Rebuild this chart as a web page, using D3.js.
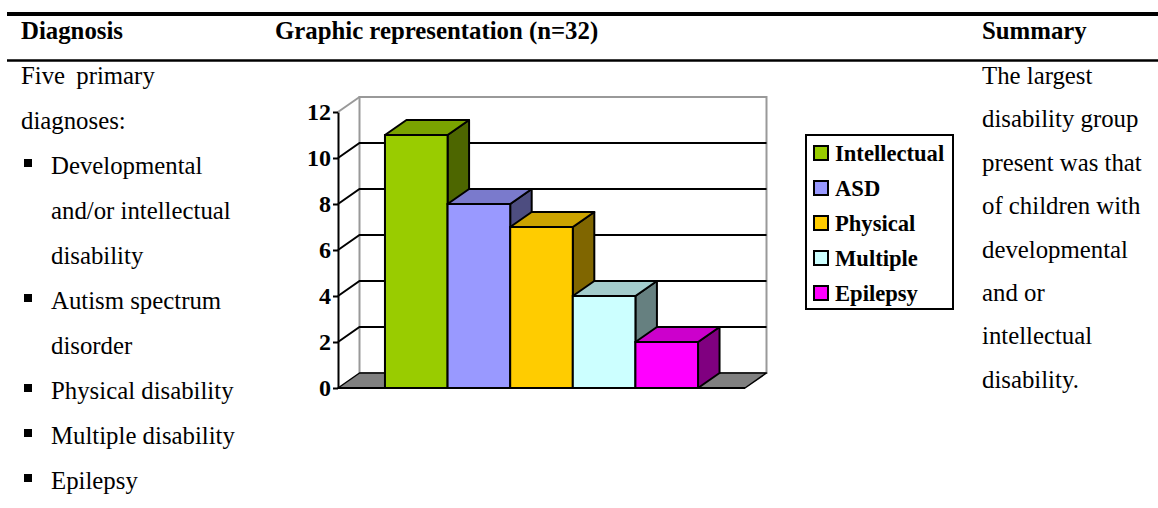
<!DOCTYPE html>
<html>
<head>
<meta charset="utf-8">
<script src="https://cdn.jsdelivr.net/npm/d3@7"></script>
<style>
  body { margin: 0; background: #fff; }
  svg { display: block; }
  text { font-family: "Liberation Serif", "Times New Roman", serif; fill: #000; }
</style>
</head>
<body>
<div id="vis"></div>
<script>
// table page with a 3D column chart in the middle
const FRAME_WIDTH = 1158;
const FRAME_HEIGHT = 508;

// data
const categories = ["Intellectual", "ASD", "Physical", "Multiple", "Epilepsy"];
const values = [11, 8, 7, 4, 2];
const frontColors = ["#99cc00", "#9999ff", "#ffcc00", "#ccffff", "#ff00ff"];
const topColors = ["#7aa300", "#7a7acc", "#cca300", "#a3cccc", "#cc00cc"];
const sideColors = ["#4d6600", "#4d4d80", "#806600", "#668080", "#800080"];
const yTicks = [0, 2, 4, 6, 8, 10, 12];

const headers = ["Diagnosis", "Graphic representation (n=32)", "Summary"];
const leftLines = ["Five primary", "diagnoses:"];
const bulletItems = [["Developmental", "and/or intellectual", "disability"],
                     ["Autism spectrum", "disorder"],
                     ["Physical disability"],
                     ["Multiple disability"],
                     ["Epilepsy"]];
const summaryLines = ["The largest", "disability group", "present was that",
                      "of children with", "developmental", "and or",
                      "intellectual", "disability."];

const FRAME1 = d3.select("#vis")
                    .append("svg")
                        .attr("width", FRAME_WIDTH)
                        .attr("height", FRAME_HEIGHT);

// table rules
FRAME1.append("line")
        .attr("x1", 7).attr("x2", FRAME_WIDTH)
        .attr("y1", 14).attr("y2", 14)
        .attr("stroke", "#000").attr("stroke-width", 4);
FRAME1.append("line")
        .attr("x1", 7).attr("x2", FRAME_WIDTH)
        .attr("y1", 60.5).attr("y2", 60.5)
        .attr("stroke", "#000").attr("stroke-width", 2.5);

// headers
const headerX = [21, 275, 982];
FRAME1.selectAll(".hdr")
        .data(headers)
        .enter()
        .append("text")
            .attr("class", "hdr")
            .attr("x", (d, i) => headerX[i])
            .attr("y", 39)
            .attr("font-size", 24.8)
            .attr("font-weight", "bold")
            .text(d => d);

// left column
const LINE_H = 45;
let rows = leftLines.map(t => ({text: t, bullet: false, indent: false}));
bulletItems.forEach(item => {
    item.forEach((t, j) => rows.push({text: t, bullet: j == 0, indent: true}));
});

FRAME1.selectAll(".left")
        .data(rows)
        .enter()
        .append("text")
            .attr("class", "left")
            .attr("x", d => d.indent ? 51 : 21)
            .attr("y", (d, i) => 84 + i * LINE_H)
            .attr("font-size", 24.8)
            .attr("word-spacing", (d, i) => i == 0 ? 5 : 0)
            .text(d => d.text);

FRAME1.selectAll(".bullet")
        .data(rows.map((d, i) => ({b: d.bullet, i: i})).filter(d => d.b))
        .enter()
        .append("rect")
            .attr("x", 24)
            .attr("y", d => 84 + d.i * LINE_H - 15)
            .attr("width", 8)
            .attr("height", 8)
            .attr("fill", "#000");

// summary column
FRAME1.selectAll(".summ")
        .data(summaryLines)
        .enter()
        .append("text")
            .attr("class", "summ")
            .attr("x", 982)
            .attr("y", (d, i) => 84 + i * 43.4)
            .attr("font-size", 24.8)
            .text(d => d);

// chart
const PLOT = {left: 338, right: 745, bottom: 388, top: 112};
const DX = 21.5, DY = 15;

const Y_SCALE = d3.scaleLinear()
                    .domain([0, 12])
                    .range([PLOT.bottom, PLOT.top]);

const X_SCALE = d3.scaleBand()
                    .domain(categories)
                    .range([PLOT.left, PLOT.right])
                    .paddingInner(0)
                    .paddingOuter(0.75);

const chart = FRAME1.append("g");
const WALL_GREY = "#999999";

// back wall
chart.append("rect")
        .attr("x", PLOT.left + DX)
        .attr("y", Y_SCALE(12) - DY)
        .attr("width", PLOT.right - PLOT.left)
        .attr("height", Y_SCALE(0) - Y_SCALE(12))
        .attr("fill", "#fff")
        .attr("stroke", WALL_GREY)
        .attr("stroke-width", 2);

// gridlines on wall and side diagonals
const inner = yTicks.filter(t => t > 0 && t < 12);
chart.selectAll(".grid")
        .data(inner)
        .enter()
        .append("polyline")
            .attr("points", d => [[PLOT.left, Y_SCALE(d)],
                                  [PLOT.left + DX, Y_SCALE(d) - DY],
                                  [PLOT.right + DX, Y_SCALE(d) - DY]].join(" "))
            .attr("fill", "none")
            .attr("stroke", "#000")
            .attr("stroke-width", 2);

chart.append("line")
        .attr("x1", PLOT.left).attr("y1", Y_SCALE(12))
        .attr("x2", PLOT.left + DX).attr("y2", Y_SCALE(12) - DY)
        .attr("stroke", WALL_GREY).attr("stroke-width", 2);

// floor
chart.append("polygon")
        .attr("points", [[PLOT.left, Y_SCALE(0)], [PLOT.right, Y_SCALE(0)],
                         [PLOT.right + DX, Y_SCALE(0) - DY],
                         [PLOT.left + DX, Y_SCALE(0) - DY]].join(" "))
        .attr("fill", "#808080")
        .attr("stroke", "#000")
        .attr("stroke-width", 1.5)
        .attr("stroke-linejoin", "round");

// bars: side, top, front
const bw = X_SCALE.bandwidth();
const bars = chart.selectAll(".bar")
        .data(categories)
        .enter()
        .append("g")
            .attr("class", "bar");

bars.append("polygon")
        .attr("points", (d, i) => {
            const x = X_SCALE(d) + bw, y = Y_SCALE(values[i]);
            return [[x, y], [x + DX, y - DY], [x + DX, Y_SCALE(0) - DY], [x, Y_SCALE(0)]].join(" ");
        })
        .attr("fill", (d, i) => sideColors[i])
        .attr("stroke", "#000").attr("stroke-width", 2)
        .attr("stroke-linejoin", "round");

bars.append("polygon")
        .attr("points", (d, i) => {
            const x = X_SCALE(d), y = Y_SCALE(values[i]);
            return [[x, y], [x + DX, y - DY], [x + bw + DX, y - DY], [x + bw, y]].join(" ");
        })
        .attr("fill", (d, i) => topColors[i])
        .attr("stroke", "#000").attr("stroke-width", 2)
        .attr("stroke-linejoin", "round");

bars.append("rect")
        .attr("x", d => X_SCALE(d))
        .attr("y", (d, i) => Y_SCALE(values[i]))
        .attr("width", bw)
        .attr("height", (d, i) => Y_SCALE(0) - Y_SCALE(values[i]))
        .attr("fill", (d, i) => frontColors[i])
        .attr("stroke", "#000").attr("stroke-width", 2);

// front base line
chart.append("line")
        .attr("x1", PLOT.left).attr("x2", PLOT.right)
        .attr("y1", Y_SCALE(0)).attr("y2", Y_SCALE(0))
        .attr("stroke", "#000").attr("stroke-width", 2);

// y axis
const yAxis = chart.append("g")
        .attr("transform", "translate(" + PLOT.left + ",0)")
        .call(d3.axisLeft(Y_SCALE).tickValues(yTicks).tickSize(5).tickSizeOuter(0).tickPadding(2));

yAxis.select(".domain").attr("stroke", "#000").attr("stroke-width", 2);
yAxis.selectAll(".tick line").attr("stroke", "#000").attr("stroke-width", 2);
yAxis.selectAll(".tick text")
        .attr("font-size", 24)
        .attr("font-weight", "bold")
        .attr("fill", "#000");

// legend
const legend = FRAME1.append("g");
legend.append("rect")
        .attr("x", 806).attr("y", 135)
        .attr("width", 147).attr("height", 174)
        .attr("fill", "#fff")
        .attr("stroke", "#000").attr("stroke-width", 2);

const items = legend.selectAll(".item")
        .data(categories)
        .enter()
        .append("g")
            .attr("class", "item")
            .attr("transform", (d, i) => "translate(814," + (153 + i * 35) + ")");

items.append("rect")
        .attr("x", 0).attr("y", -7)
        .attr("width", 14).attr("height", 14)
        .attr("fill", (d, i) => frontColors[i])
        .attr("stroke", "#000").attr("stroke-width", 2);

items.append("text")
        .attr("x", 21)
        .attr("y", 8)
        .attr("font-size", 22.6)
        .attr("font-weight", "bold")
        .text(d => d);
</script>
</body>
</html>
